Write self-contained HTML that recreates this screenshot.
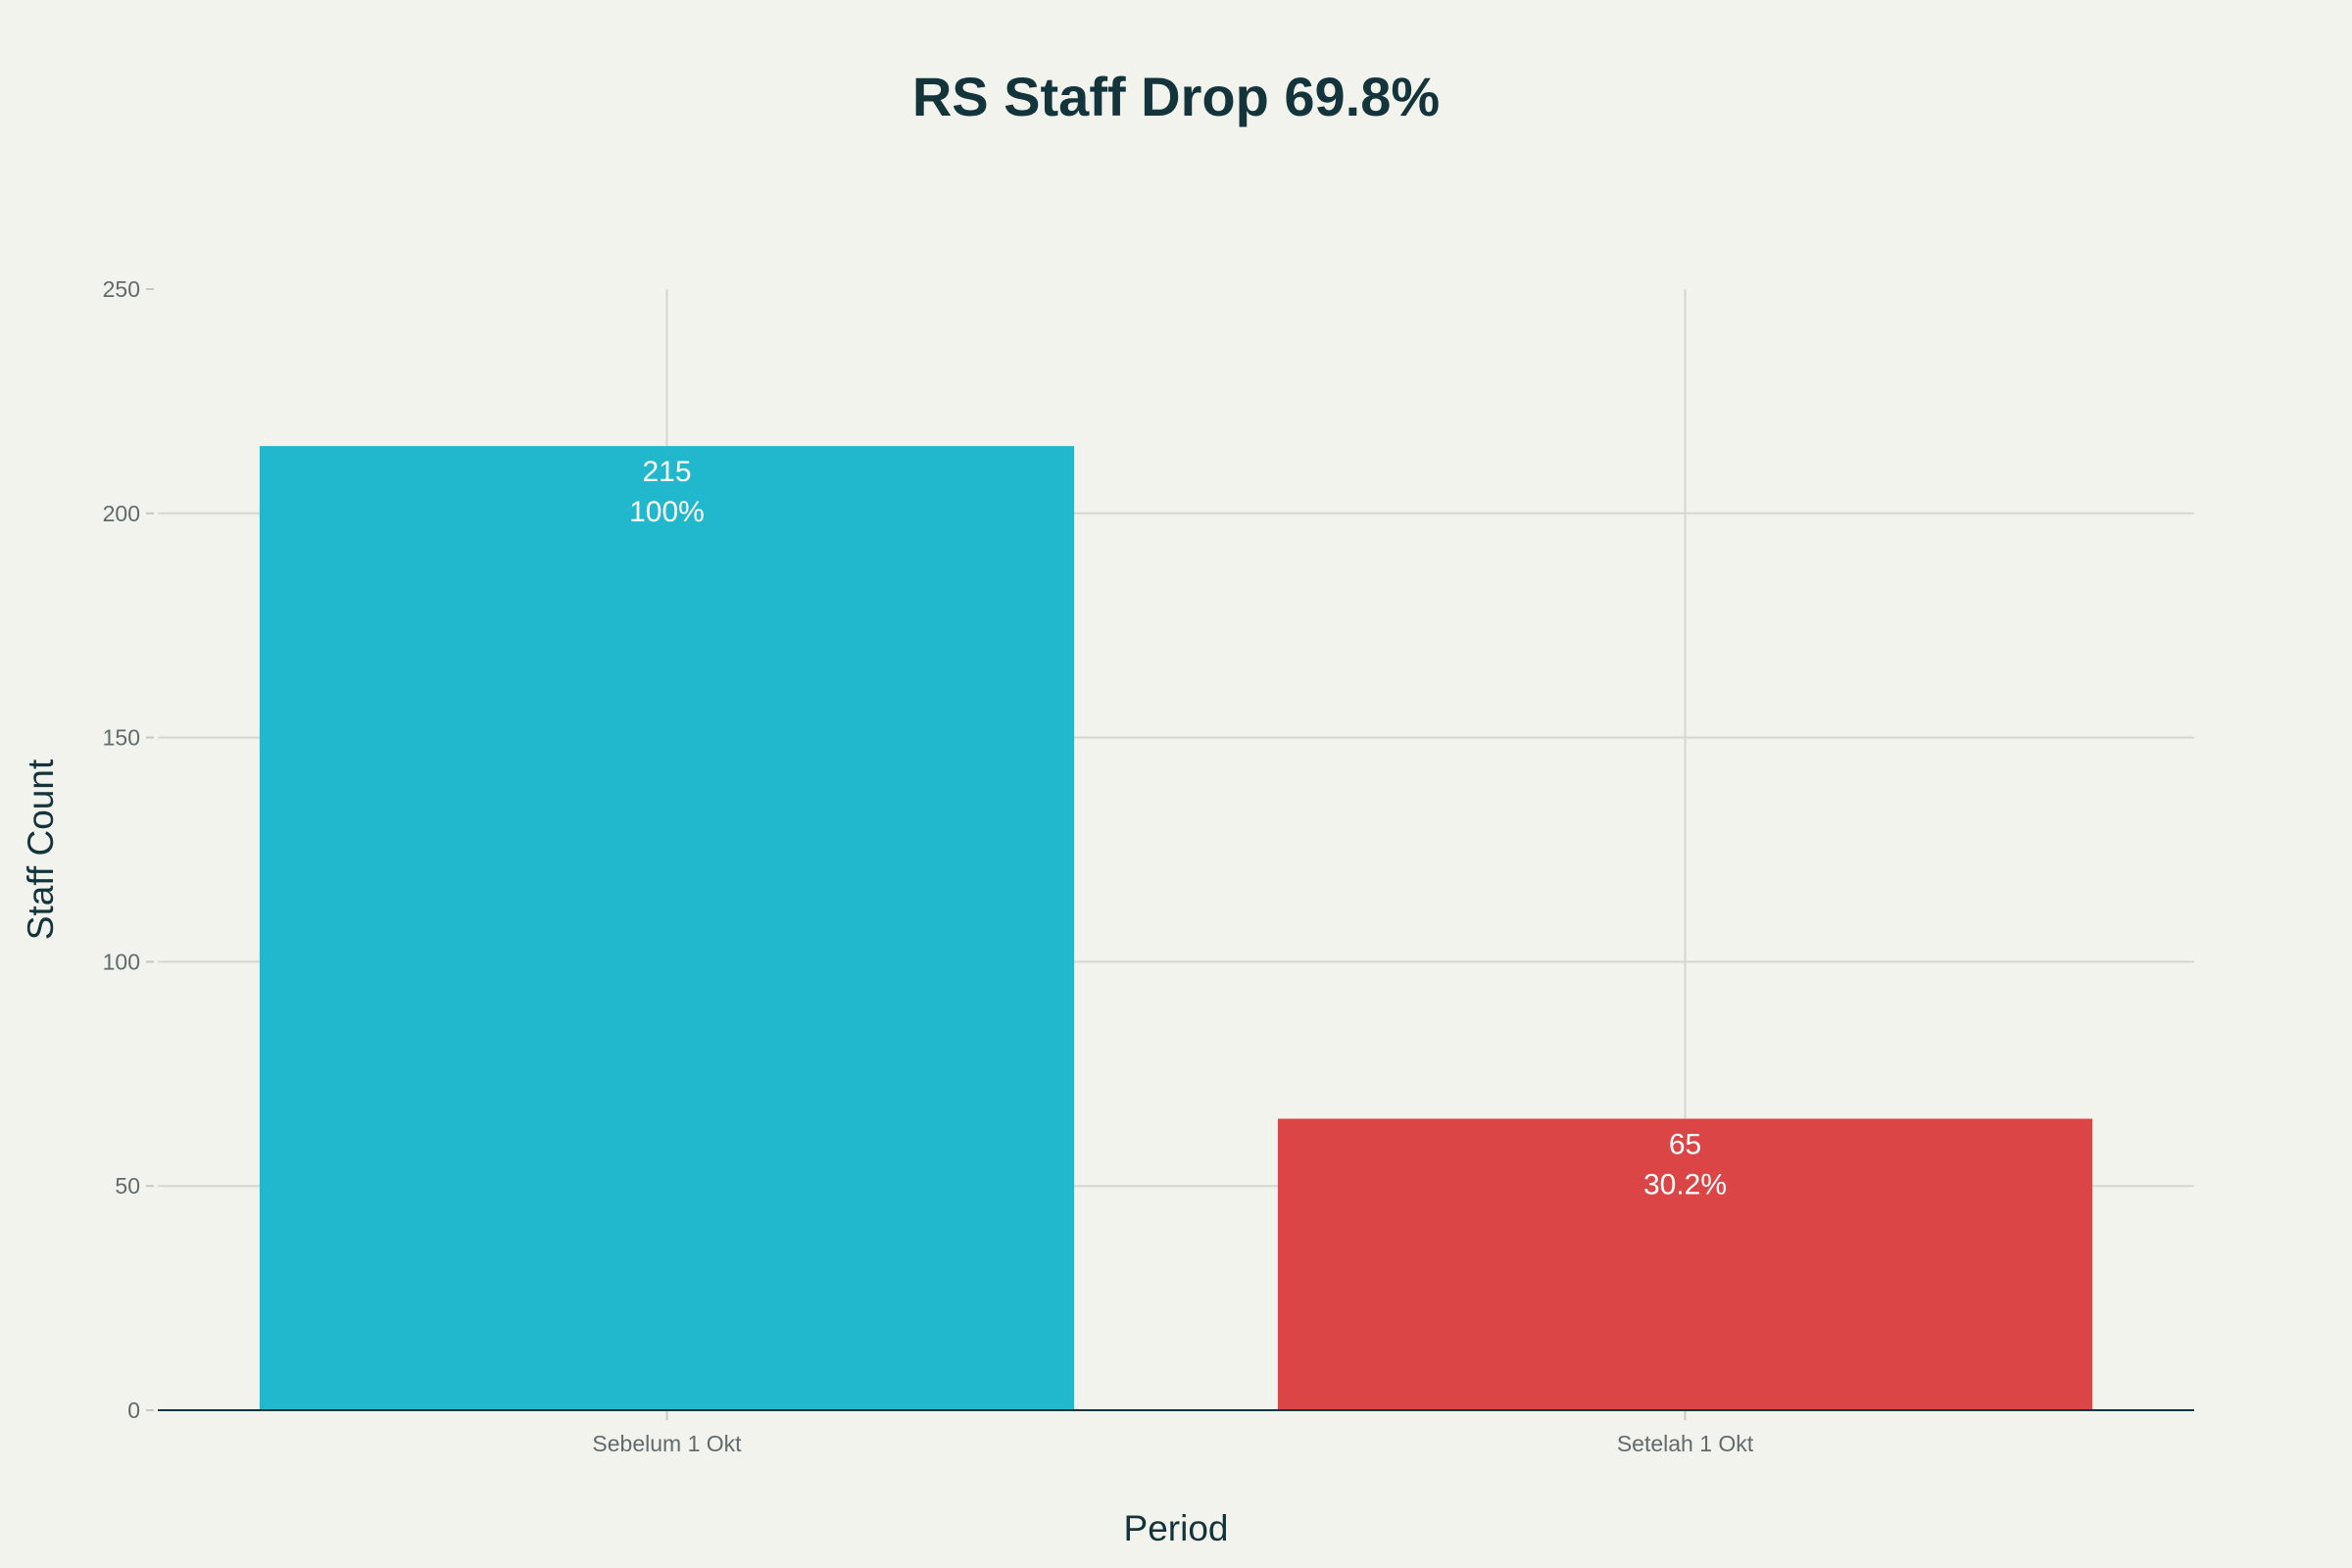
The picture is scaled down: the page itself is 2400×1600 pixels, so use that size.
<!DOCTYPE html>
<html><head><meta charset="utf-8"><style>
html,body{margin:0;padding:0;background:#F3F3EE;}
svg{display:block;font-family:"Liberation Sans",sans-serif;}
</style></head><body>
<svg id="chart" width="2400" height="1600" viewBox="0 0 2400 1600" xmlns="http://www.w3.org/2000/svg">
<rect width="2400" height="1600" fill="#F3F3EE"/>
<text x="1200" y="118" text-anchor="middle" font-size="56" font-weight="bold" fill="#13343B">RS Staff Drop 69.8%</text>
<g id="grid"></g>
<g id="bars"></g>
<g id="axes"></g>
<text x="1200" y="1572" text-anchor="middle" font-size="37" fill="#13343B">Period</text>
<text transform="translate(54,867) rotate(-90)" text-anchor="middle" font-size="37" fill="#13343B">Staff Count</text>
</svg>
<script>
const categories = ["Sebelum 1 Okt", "Setelah 1 Okt"];
const values = [215, 65];
const pctLabels = ["100%", "30.2%"];
const yTicks = [0, 50, 100, 150, 200, 250];
const colors = ["#21B8CD", "#DB4545"];

const NS = "http://www.w3.org/2000/svg";
const L = 161, R = 2239, T = 295, B = 1439, yMax = 250;
const y = v => B - (v / yMax) * (B - T);
const band = (R - L) / categories.length;
const xc = i => L + band * (i + 0.5);
const bw = band * 0.8;
function mk(tag, attrs, parent) {
  const e = document.createElementNS(NS, tag);
  for (const k in attrs) e.setAttribute(k, attrs[k]);
  parent.appendChild(e);
  return e;
}
const grid = document.getElementById('grid');
const bars = document.getElementById('bars');
const axes = document.getElementById('axes');
yTicks.forEach(t => {
  if (t > 0 && t < yMax) {
    const g = mk('line', {x1: L, x2: R, y1: y(t), y2: y(t), stroke: '#D6D6D1', 'stroke-width': 2}, grid);
    
    
  }
  const tk = mk('line', {x1: L - 12, x2: L - 4, y1: y(t), y2: y(t), stroke: '#C8C8C3', 'stroke-width': 2}, axes);
  
  
  const lb = mk('text', {x: L - 18, y: y(t) + 8, 'text-anchor': 'end', 'font-size': 23, fill: '#5F6B6D'}, axes);
  lb.textContent = t;
  
  
});
categories.forEach((c, i) => {
  const v = mk('line', {x1: xc(i), x2: xc(i), y1: T, y2: B, stroke: '#D6D6D1', 'stroke-width': 2}, grid);
  
  
  const r = mk('rect', {x: xc(i) - bw / 2, y: y(values[i]), width: bw, height: B - y(values[i]), fill: colors[i]}, bars);
  
  
  const t1 = mk('text', {x: xc(i), y: y(values[i]) + 36, 'text-anchor': 'middle', 'font-size': 30, fill: '#FFFFFF'}, bars);
  t1.textContent = values[i];
  
  
  const t2 = mk('text', {x: xc(i), y: y(values[i]) + 77, 'text-anchor': 'middle', 'font-size': 30, fill: '#FFFFFF'}, bars);
  t2.textContent = pctLabels[i];
  
  
  const xt = mk('line', {x1: xc(i), x2: xc(i), y1: B, y2: B + 10, stroke: '#C8C8C3', 'stroke-width': 2}, axes);
  
  
  const xl = mk('text', {x: xc(i), y: B + 42, 'text-anchor': 'middle', 'font-size': 23, fill: '#5F6B6D'}, axes);
  xl.textContent = c;
  
  
});
const ax = mk('line', {x1: L, x2: R, y1: B, y2: B, stroke: '#13343B', 'stroke-width': 2}, axes);


</script>
</body></html>
